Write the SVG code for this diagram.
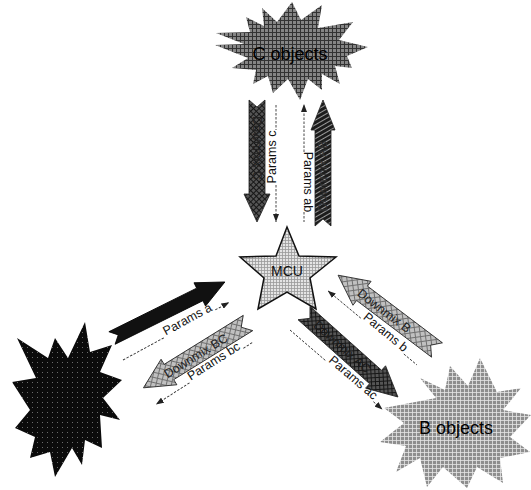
<svg xmlns="http://www.w3.org/2000/svg" width="531" height="490" viewBox="0 0 531 490">
<style>
.lbl{font-family:"Liberation Sans",Arial,sans-serif;font-size:12.5px;fill:#111;text-anchor:middle}
.big{font-family:"Liberation Sans",Arial,sans-serif;font-size:18px;fill:#000;text-anchor:middle}
.dl{font-family:"Liberation Sans",Arial,sans-serif;font-size:12.5px;text-anchor:middle;dominant-baseline:central}
.dash{fill:none;stroke:#333;stroke-width:0.9;stroke-dasharray:2.5 1.5}
.arr{stroke:#222;stroke-width:0.8}
</style>
<defs>
<pattern id="gridC" width="4" height="4" patternUnits="userSpaceOnUse"><rect width="4" height="4" fill="#858585"/><path d="M0,0.5H4M0.5,0V4" stroke="#333" stroke-width="1"/></pattern>
<pattern id="gridB" width="4" height="4" patternUnits="userSpaceOnUse"><rect width="4" height="4" fill="#8e8e8e"/><path d="M0,0.5H4M0.5,0V4" stroke="#e6e6e6" stroke-width="0.8"/></pattern>
<pattern id="gridM" width="3" height="3" patternUnits="userSpaceOnUse"><rect width="3" height="3" fill="#e4e4e4"/><path d="M0,0.5H3M0.5,0V3" stroke="#9a9a9a" stroke-width="0.8"/></pattern>
<pattern id="hatchL" width="5" height="5" patternUnits="userSpaceOnUse" patternTransform="rotate(45)"><rect width="5" height="5" fill="#c0c0c0"/><path d="M0,0.5H5M0.5,0V5" stroke="#707070" stroke-width="1"/></pattern>
<pattern id="hatchD" width="4" height="4" patternUnits="userSpaceOnUse" patternTransform="rotate(45)"><rect width="4" height="4" fill="#555"/><path d="M0,0.5H4M0.5,0V4" stroke="#161616" stroke-width="1"/></pattern>
<pattern id="hatchAB" width="4" height="4" patternUnits="userSpaceOnUse" patternTransform="rotate(60)"><rect width="4" height="4" fill="#1c1c1c"/><path d="M0,0.5H4" stroke="#bbb" stroke-width="0.8"/></pattern>
<pattern id="dotsA" width="5" height="5" patternUnits="userSpaceOnUse"><rect width="5" height="5" fill="#0b0b0b"/><rect x="2" y="2" width="1" height="1" fill="#6a6a6a"/></pattern>
<marker id="ah" viewBox="0 0 8 6" refX="8" refY="3" markerWidth="8" markerHeight="6" orient="auto-start-reverse" markerUnits="userSpaceOnUse"><path d="M0,0L8,3L0,6Z" fill="#222"/></marker>
</defs>

<g id="c-objects">
<polygon fill="url(#gridC)" points="246,17 264,26 262,8 277,22 292,2 301,20 322,5 318,28 353,22 339,40 368,47 347,56 352,68 335,66 340,84 322,74 322,90 308,79 300,100 288,79 273,93 268,76 253,84 256,70 232,68 248,58 215,45 244,44 216,33 250,32"/>
<text class="big" x="290" y="60">C objects</text>
</g>

<g id="a-objects">
<polygon fill="url(#dotsA)" points="85,322 90,352 112,345 100,372 122,380 103,398 120,420 100,415 102,448 85,440 82,465 72,448 55,477 50,452 30,458 35,437 15,428 30,410 12,382 36,378 17,338 48,358 55,338 68,358"/>
</g>

<g id="b-objects">
<polygon fill="url(#gridB)" points="420,378 436,398 384,408 404,423 380,442 406,446 396,472 420,458 427,487 443,467 467,488 477,467 503,483 500,458 530,452 510,437 531,415 503,410 521,388 497,392 480,358 468,386 450,366 445,390"/>
<text class="big" x="456" y="434">B objects</text>
</g>

<g id="mcu">
<polygon fill="url(#gridM)" stroke="#111" stroke-width="1.5" stroke-linejoin="miter" points="287,227 276,256 240,257 264,278 258,309 287,292 316,309 310,278 336,257 299,256"/>
<text x="287" y="276" font-family="Liberation Sans, Arial, sans-serif" font-size="14" text-anchor="middle" fill="#111">MCU</text>
</g>

<g id="connectors">
<g transform="translate(257,100) rotate(90)"><path class="arr" fill="url(#hatchD)" d="M0,-8 H94 V-13 L122,0 L94,13 V8 H0 L7,0 Z"/></g>
<text class="dl" fill="#222" transform="translate(257,148) rotate(90)">Downmix C</text>
<g transform="translate(323,226) rotate(-90)"><path class="arr" fill="url(#hatchAB)" d="M0,-8 H96 V-12 L126,0 L96,12 V8 H0 L7,0 Z"/></g>
<text class="dl" fill="#333" transform="translate(323,176) rotate(-90)">Downmix AB</text>
<path class="dash" d="M276,105 V130"/>
<path class="dash" d="M276,185 V222" marker-end="url(#ah)"/>
<text class="lbl" transform="translate(276,157) rotate(-90)">Params c</text>
<path class="dash" d="M304,152 V104" marker-end="url(#ah)"/>
<path class="dash" d="M304,212 V222"/>
<text class="lbl" transform="translate(304,182) rotate(90)">Params ab</text>

<g transform="translate(112,338) rotate(-26.4)"><path fill="#111" stroke="#000" stroke-width="0.8" d="M0,-7 H98 V-13 L126,0 L98,13 V7 H0 L7,0 Z"/></g>
<g transform="translate(123,360) rotate(-28.5)">
<path class="dash" d="M0,0 H47"/>
<path class="dash" d="M105,0 H121" marker-end="url(#ah)"/>
<text class="lbl" x="76" y="-1">Params a</text>
</g>

<g transform="translate(248,323) rotate(148.2)"><path class="arr" fill="url(#hatchL)" d="M0,-9 H93 V-15 L123,0 L93,15 V9 H0 L8,0 Z"/></g>
<text class="dl" fill="#222" transform="translate(196,356) rotate(-31.8)">Downmix BC</text>
<g transform="translate(155,405) rotate(-32.7)">
<path class="dash" d="M41,0 H1" marker-end="url(#ah)"/>
<path class="dash" d="M105,0 H116"/>
<text class="lbl" x="73" y="-1">Params bc</text>
</g>

<g transform="translate(437,350) rotate(-142.9)"><path class="arr" fill="url(#hatchL)" d="M0,-9 H94 V-15 L124,0 L94,15 V9 H0 L8,0 Z"/></g>
<text class="dl" fill="#222" transform="translate(384,311) rotate(37.1)">Downmix B</text>
<g transform="translate(327,290) rotate(39.8)">
<path class="dash" d="M44,0 H1" marker-end="url(#ah)"/>
<path class="dash" d="M100,0 H117"/>
<text class="lbl" x="72" y="-1">Params b</text>
</g>

<g transform="translate(304,313) rotate(41.8)"><path class="arr" fill="url(#hatchD)" d="M0,-9 H96 V-15 L126,0 L96,15 V9 H0 L8,0 Z"/></g>
<text class="dl" fill="#1a1a1a" transform="translate(342,347) rotate(41.8)">Downmix AC</text>
<g transform="translate(290,330) rotate(40.7)">
<path class="dash" d="M0,0 H48"/>
<path class="dash" d="M110,0 H122" marker-end="url(#ah)"/>
<text class="lbl" x="79" y="-1">Params ac</text>
</g>
</g>
</svg>
